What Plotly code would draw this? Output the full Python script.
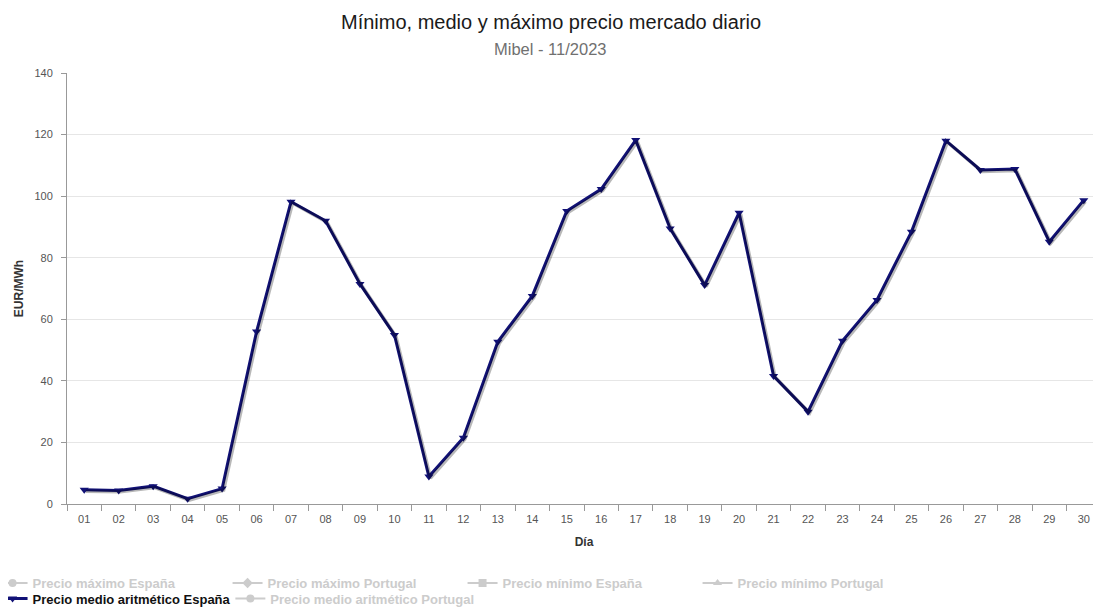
import plotly.graph_objects as go

days = ["01","02","03","04","05","06","07","08","09","10","11","12","13","14","15",
        "16","17","18","19","20","21","22","23","24","25","26","27","28","29","30"]
medio_es = [4.6, 4.4, 5.8, 1.7, 5.0, 56.0, 98.2, 92.0, 71.5, 54.9, 8.9, 21.5, 52.7, 67.6, 95.2,
            102.3, 118.2, 89.5, 71.1, 94.6, 41.6, 30.0, 53.0, 66.3, 88.4, 118.0, 108.5, 108.8, 85.2, 98.7]

row1_names = ["Precio máximo España", "Precio máximo Portugal", "Precio mínimo España",
              "Precio mínimo Portugal"]
row1_symbols = ["circle", "diamond", "square", "triangle-up"]
visible_name = "Precio medio aritmético España"
last_hidden = "Precio medio aritmético Portugal"

x_pos = list(range(1, len(days) + 1))
GRAY = "#cccccc"
NAVY = "#111176"
FONT = "Liberation Sans, Arial, sans-serif"

fig = go.Figure()
for name, sym in zip(row1_names, row1_symbols):
    fig.add_trace(go.Scatter(x=[None], y=[None], mode="lines+markers",
                             name=f"<span style='color:{GRAY}'><b>{name}</b></span>",
                             line=dict(color=GRAY, width=2),
                             marker=dict(color=GRAY, symbol=sym, size=8),
                             legend="legend"))
# shadow
fig.add_trace(go.Scatter(x=x_pos, y=medio_es, mode="lines",
                         line=dict(color="rgba(0,0,0,0.28)", width=3.5),
                         xaxis="x2", yaxis="y2",
                         showlegend=False, hoverinfo="skip"))
fig.add_trace(go.Scatter(x=x_pos, y=medio_es, mode="lines+markers",
                         name=f"<span style='color:#111111'><b>{visible_name}</b></span>",
                         line=dict(color=NAVY, width=3),
                         marker=dict(color=NAVY, symbol="triangle-down", size=8),
                         legend="legend2"))
fig.add_trace(go.Scatter(x=[None], y=[None], mode="lines+markers",
                         name=f"<span style='color:{GRAY}'><b>{last_hidden}</b></span>",
                         line=dict(color=GRAY, width=2),
                         marker=dict(color=GRAY, symbol="circle", size=8),
                         legend="legend3"))

legend_common = dict(orientation="h", xanchor="left", yanchor="top",
                     font=dict(size=13, color="#222222", family=FONT),
                     itemwidth=30, traceorder="normal",
                     itemclick=False, itemdoubleclick=False, bgcolor="rgba(0,0,0,0)")

fig.update_layout(
    width=1093, height=601,
    paper_bgcolor="white", plot_bgcolor="white",
    font=dict(family=FONT, size=11, color="#666666"),
    margin=dict(l=59, r=0, t=65, b=105, autoexpand=False),
    showlegend=True,
    legend=dict(legend_common, x=-0.072, y=-0.1485, entrywidth=190),
    legend2=dict(legend_common, x=-0.072, y=-0.1845),
    legend3=dict(legend_common, x=0.158, y=-0.1845),
    annotations=[
        dict(text="Mínimo, medio y máximo precio mercado diario", xref="paper", yref="paper",
             x=0.468, y=1.1190, xanchor="center", yanchor="middle", showarrow=False,
             font=dict(size=20, color="#1a1a1a", family=FONT)),
        dict(text="Mibel - 11/2023", xref="paper", yref="paper",
             x=0.468, y=1.0560, xanchor="center", yanchor="middle", showarrow=False,
             font=dict(size=16.5, color="#707070", family=FONT)),
    ],
    xaxis=dict(range=[0.5, 30.5], tickmode="array", tickvals=x_pos, ticktext=days,
               ticks="outside", ticklen=5, tickcolor="rgba(0,0,0,0)",
               showgrid=False, zeroline=False,
               showline=True, linecolor="#999999", linewidth=1,
               minor=dict(tick0=0.5, dtick=1, ticks="outside", ticklen=6,
                          tickcolor="#999999", showgrid=False),
               title=dict(text="<b>Día</b>", font=dict(size=12, color="#333333"), standoff=13),
               tickfont=dict(size=11, color="#555555")),
    yaxis=dict(range=[0, 140], dtick=20, showgrid=True, gridcolor="#e6e6e6", zeroline=False,
               showline=True, linecolor="#999999", linewidth=1,
               ticks="outside", ticklen=5, tickcolor="#999999", ticklabelstandoff=6,
               title=dict(text="<b>EUR/MWh</b>", font=dict(size=12, color="#333333"), standoff=8),
               tickfont=dict(size=11, color="#555555")),
    xaxis2=dict(range=[0.5 - 0.045, 30.5 - 0.045], overlaying="x", visible=False),
    yaxis2=dict(range=[0.45, 140.45], overlaying="y", visible=False),
)

fig.write_html("out.html")
